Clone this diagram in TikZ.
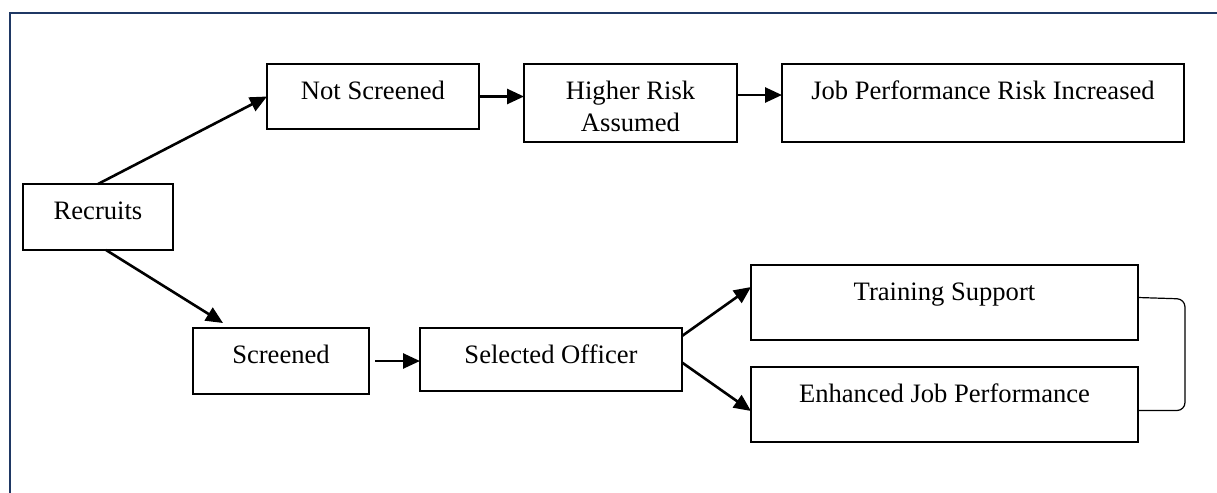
\documentclass[tikz,border=0pt]{standalone}
\usepackage{fontspec}
\setmainfont{Liberation Serif}
\usepackage{tikz}
\usetikzlibrary{arrows.meta}
\definecolor{framenavy}{RGB}{31,56,100}
\tikzstyle{block} = [rectangle, draw, line width=0.6pt, anchor=north west, inner ysep=0pt, outer sep=0pt, text height=17.5pt, align=center, font=\fontsize{13.3}{16}\selectfont]
\tikzstyle{arrow} = [line width=1.3pt,->,>={Triangle[length=8.5pt,width=7.5pt]}]
\tikzstyle{bracket} = [line width=0.6pt, rounded corners=4pt]

\begin{document}
\begin{tikzpicture}[x=0.5pt, y=-0.5pt]
    \useasboundingbox (0,0) rectangle (1217,493);
    \draw [framenavy, line width=1.25pt] (10,493) -- (10,13) -- (1217,13);
    \node [block, minimum width=75pt, text depth=15.5pt] at (23,184) (recruits) {Recruits};
    \node [block, minimum width=106pt, text depth=15pt] at (267,64) (notscr) {Not Screened};
    \node [block, minimum width=106.5pt, text height=33.5pt, text depth=5.5pt] at (524,64) (higher) {Higher Risk\\Assumed};
    \node [block, minimum width=201pt, text depth=21.5pt] at (782,64) (jobrisk) {Job Performance Risk Increased};
    \node [block, minimum width=88pt, text depth=15.5pt] at (193,328) (screened) {Screened};
    \node [block, minimum width=131pt, text depth=14pt] at (420,328) (selected) {Selected Officer};
    \node [block, minimum width=193.5pt, text depth=20pt] at (751,265) (training) {Training Support};
    \node [block, minimum width=193.5pt, text depth=20pt] at (751,367) (enhanced) {Enhanced Job Performance};
    \draw [arrow] (recruits.north) -- (notscr.west);
    \draw [arrow] ([xshift=4pt]recruits.south) -- ([xshift=15pt,yshift=2.5pt]screened.north west);
    \draw [arrow] (notscr.east) -- (notscr.east -| higher.west);
    \draw [arrow] ([yshift=4pt]higher.east) -- ([yshift=4pt]higher.east -| jobrisk.west);
    \draw [arrow] ([xshift=3pt]screened.east) -- (screened.east -| selected.west);
    \draw [arrow] ([yshift=-4pt]selected.north east) -- ([yshift=-11pt]training.north west);
    \draw [arrow] ([yshift=-1.5pt]selected.east) -- ([yshift=15.5pt]enhanced.south west);
    \draw [bracket] ([yshift=2.5pt]training.east) -- ++(47,1.5) |- ([yshift=-3pt]enhanced.east);
    \end{tikzpicture}
\end{document}
